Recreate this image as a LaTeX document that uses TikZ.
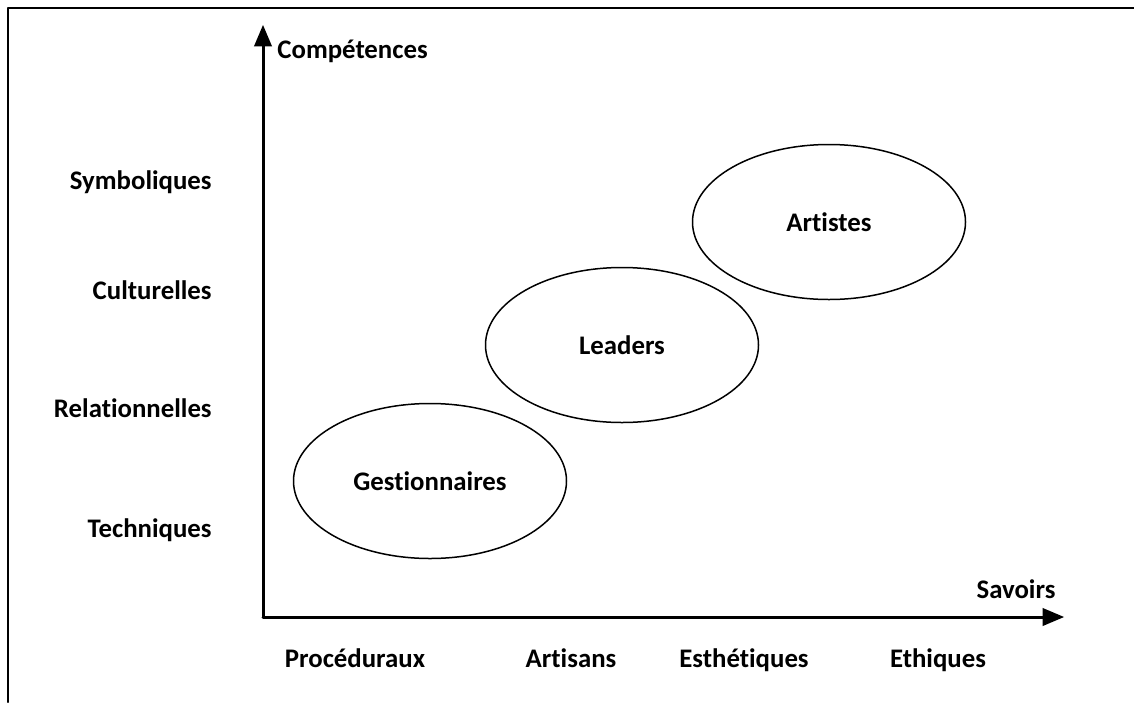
\documentclass[tikz,border=0pt]{standalone}
\usepackage{fontspec}
\setmainfont{Carlito}[Ligatures=NoCommon]
\usetikzlibrary{arrows,shapes.geometric}

\begin{document}
\begin{tikzpicture}[line cap=round,line join=round,>=triangle 45,x=0.5pt,y=-0.5pt,
    lbl/.style={font=\bfseries\fontsize{13.4}{16}\selectfont,inner sep=0pt,text height=9.5pt,text depth=3pt},
    grp/.style={ellipse,draw,line width=0.75pt,minimum width=136.5pt,minimum height=77.5pt,
        font=\bfseries\fontsize{13.4}{16}\selectfont}]
    \useasboundingbox (0,0) rectangle (1134,702);
    \draw [line width=1.4pt] (8,702) -- (8,8) -- (1134,8);

    % axes
    \coordinate (O) at (263,617);
    \coordinate (ytop) at (263,25);
    \coordinate (xend) at (1064,617);
    \draw [line width=1.5pt,->] (O) -- (ytop);
    \draw [line width=1.5pt,->] (O) -- (xend);

    \node [lbl,anchor=west] (comp) at (277,52) {Compétences};
    \node [lbl] (sav) at (1016,592) {Savoirs};

    % vertical labels
    \node [lbl,anchor=east] (symb) at (212,183) {Symboliques};
    \node [lbl,anchor=east] (cult) at (212,293) {Culturelles};
    \node [lbl,anchor=east] (rel) at (212,411) {Relationnelles};
    \node [lbl,anchor=east] (tech) at (212,531) {Techniques};

    % horizontal labels
    \node [lbl] (proc) at (355,661) {Procéduraux};
    \node [lbl] (arti) at (571,661) {Artisans};
    \node [lbl] (esth) at (744,661) {Esthétiques};
    \node [lbl] (eth) at (938,661) {Ethiques};

    % groups
    \node [grp] (gest) at (430,481) {Gestionnaires};
    \node [grp] (lead) at (622,345) {Leaders};
    \node [grp] (artis) at (829,222) {Artistes};
\end{tikzpicture}
\end{document}
